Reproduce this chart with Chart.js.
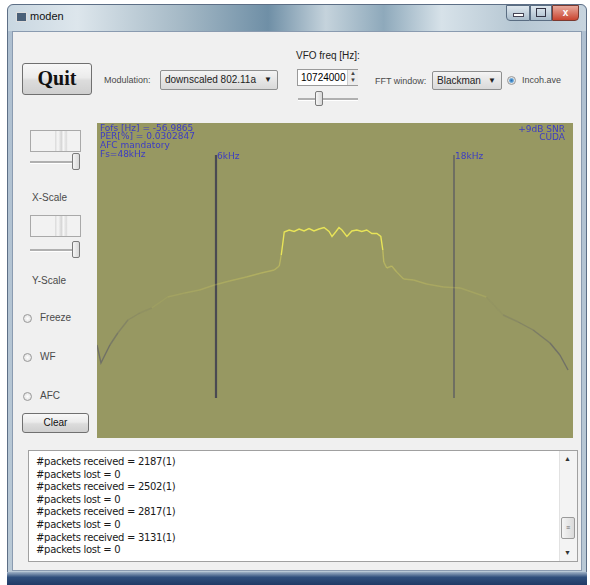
<!DOCTYPE html>
<html>
<head>
<meta charset="utf-8">
<script src="https://cdn.jsdelivr.net/npm/chart.js@4/dist/chart.umd.min.js"></script>
<style>
  html, body { margin: 0; padding: 0; background: #ffffff; }
  body { width: 590px; height: 585px; position: relative; overflow: hidden;
         font-family: "Liberation Sans", "DejaVu Sans", sans-serif; }
  .abs { position: absolute; }
  #win { left: 7px; top: 4px; width: 580px; height: 581px;
         background: linear-gradient(180deg, #aebfd0 0%, #b9c9d6 100%);
         border: 1px solid #5d6f86; border-radius: 6px 6px 0 0; box-sizing: border-box; }
  #titlebar { left: 8px; top: 5px; width: 578px; height: 26px;
         background: linear-gradient(90deg, #c9d7e1 0%, #dde6ec 12%, #a5b9c6 30%, #6f8fa6 45%,
                     #c5d3dc 55%, #8ea9bb 65%, #d7e2e9 75%, #b6c7d3 88%, #c7d4de 100%);
         border-radius: 6px 6px 0 0; }
  #client { left: 12px; top: 31px; width: 570px; height: 540px; background: #f0f0f0;
            border: 1px solid #8a9bb0; box-sizing: border-box; }
  #bottomband { left: 7px; top: 572px; width: 580px; height: 13px;
            background: linear-gradient(180deg, #9fb2c6 0%, #2f4f7c 40%, #203a66 100%); }
  .lbl { font-size: 9px; color: #4a4a4a; white-space: nowrap; }
  .txt { font-size: 10px; color: #222; white-space: nowrap; }
  .btn { border: 1px solid #707070; border-radius: 3px; box-sizing: border-box;
         background: linear-gradient(180deg, #f8f8f8 0%, #ebebeb 45%, #dcdcdc 55%, #cfcfcf 100%);
         text-align: center; color: #111; }
  .combo { border: 1px solid #8e8f8f; border-radius: 2px; box-sizing: border-box;
           background: linear-gradient(180deg, #f4f4f4 0%, #e6e6e6 50%, #d9d9d9 100%);
           font-size: 10px; color: #222; padding-left: 4px; line-height: 17px; white-space: nowrap; }
  .combo .arr { position: absolute; right: 5px; top: 0; font-size: 8px; color: #222; }
  .radio { width: 9px; height: 9px; border-radius: 50%; border: 1px solid #9a9a9a;
           background: radial-gradient(circle, #fff 0%, #e4e4e4 70%, #cfcfcf 100%); box-sizing: border-box; }
  .track { height: 2px; background: #b0b0b0; border-bottom: 1px solid #fff; }
  .thumb { width: 8px; height: 15px; border: 1px solid #7a7a7a; border-radius: 2px; box-sizing: border-box;
           background: linear-gradient(90deg, #f5f5f5, #d8d8d8); }
  .wheel { width: 51px; height: 22px; border: 1px solid #a9a9a9; box-sizing: border-box;
           background: linear-gradient(90deg, #f2f2f2 0%, #f2f2f2 48%, #dedede 50%, #f7f7f7 55%, #d6d6d6 62%, #f7f7f7 66%, #dcdcdc 72%, #f2f2f2 75%, #f2f2f2 100%); }
  #plotwrap { left: 97px; top: 123px; width: 476px; height: 315px; }
  #log { left: 28px; top: 450px; width: 550px; height: 112px; background: #fff;
         border: 1px solid #a0a0a0; box-sizing: border-box; }
  #log .line { position: absolute; left: 7px; font-size: 10px; color: #1a1a1a; white-space: nowrap;
               font-family: "DejaVu Sans", sans-serif; letter-spacing: -0.3px; }
  #sb { right: 0; top: 0; width: 17px; height: 110px; background: #f3f3f3; border-left: 1px solid #e2e2e2; }
</style>
</head>
<body>
<div id="win" class="abs"></div>
<div id="titlebar" class="abs"></div>
<div class="abs" style="left:16px;top:12px;width:9px;height:8px;background:#4a6078;border:1px solid #ddd;"></div>
<div class="abs" style="left:30px;top:10px;font-size:11px;color:#111;">moden</div>
<div class="abs" style="left:506px;top:5px;width:24px;height:16px;border:1px solid #5a6d82;border-radius:0 0 0 4px;background:linear-gradient(180deg,#dfe8ef,#a9bccb);box-sizing:border-box;"></div>
<div class="abs" style="left:513px;top:13px;width:9px;height:2px;background:#fff;border:1px solid #445;"></div>
<div class="abs" style="left:530px;top:5px;width:22px;height:16px;border:1px solid #5a6d82;background:linear-gradient(180deg,#dfe8ef,#a9bccb);box-sizing:border-box;"></div>
<div class="abs" style="left:536px;top:8px;width:8px;height:7px;border:1px solid #334;background:transparent;"></div>
<div class="abs" style="left:552px;top:5px;width:27px;height:16px;border:1px solid #7a3a30;border-radius:0 0 4px 0;background:linear-gradient(180deg,#e8a99c,#c9442f);box-sizing:border-box;color:#fff;font-size:10px;font-weight:bold;text-align:center;line-height:14px;">x</div>
<div id="client" class="abs"></div>
<div id="bottomband" class="abs"></div>

<!-- top control row -->
<div class="abs btn" style="left:22px;top:63px;width:70px;height:32px;font-family:'Liberation Serif',serif;font-weight:bold;font-size:20px;line-height:29px;">Quit</div>
<div class="abs lbl" style="left:104px;top:75px;">Modulation:</div>
<div class="abs combo" style="left:160px;top:70px;width:118px;height:20px;">downscaled 802.11a<span class="arr">&#9660;</span></div>
<div class="abs txt" style="left:296px;top:50px;">VFO freq [Hz]:</div>
<div class="abs" style="left:297px;top:69px;width:61px;height:17px;border:1px solid #9a9a9a;background:#fff;box-sizing:border-box;font-size:10px;line-height:15px;padding-left:3px;">10724000</div>
<div class="abs" style="left:347px;top:70px;width:10px;height:15px;background:#ececec;border-left:1px solid #ccc;font-size:6px;line-height:7px;text-align:center;color:#444;">&#9650;<br>&#9660;</div>
<div class="abs track" style="left:298px;top:98px;width:60px;"></div>
<div class="abs thumb" style="left:315px;top:91px;"></div>
<div class="abs lbl" style="left:375px;top:76px;">FFT window:</div>
<div class="abs combo" style="left:432px;top:71px;width:70px;height:19px;">Blackman<span class="arr">&#9660;</span></div>
<div class="abs radio" style="left:507px;top:76px;background:radial-gradient(circle,#2d6fb0 0%,#5aa0d8 35%,#e4e4e4 60%,#cfcfcf 100%);"></div>
<div class="abs lbl" style="left:522px;top:75px;">Incoh.ave</div>

<!-- left panel -->
<div class="abs wheel" style="left:30px;top:130px;"></div>
<div class="abs track" style="left:30px;top:161px;width:50px;"></div>
<div class="abs thumb" style="left:72px;top:153px;height:17px;"></div>
<div class="abs lbl" style="left:32px;top:192px;font-size:10px;">X-Scale</div>
<div class="abs wheel" style="left:30px;top:215px;"></div>
<div class="abs track" style="left:30px;top:249px;width:50px;"></div>
<div class="abs thumb" style="left:72px;top:241px;height:17px;"></div>
<div class="abs lbl" style="left:32px;top:275px;font-size:10px;">Y-Scale</div>
<div class="abs radio" style="left:23px;top:314px;"></div>
<div class="abs lbl" style="left:40px;top:312px;font-size:10px;">Freeze</div>
<div class="abs radio" style="left:23px;top:353px;"></div>
<div class="abs lbl" style="left:40px;top:351px;font-size:10px;">WF</div>
<div class="abs radio" style="left:23px;top:392px;"></div>
<div class="abs lbl" style="left:40px;top:390px;font-size:10px;">AFC</div>
<div class="abs btn" style="left:22px;top:413px;width:67px;height:20px;font-size:10px;line-height:18px;">Clear</div>

<!-- spectrum plot -->
<div id="plotwrap" class="abs"><canvas id="spec" width="476" height="315"></canvas></div>

<!-- packet log -->
<div id="log" class="abs">
  <div id="sb" class="abs">
    <div class="abs" style="left:4px;top:4px;font-size:7px;color:#333;">&#9650;</div>
    <div class="abs" style="left:1px;top:66px;width:14px;height:22px;border:1px solid #9a9a9a;border-radius:2px;background:linear-gradient(90deg,#f4f4f4,#dadada);box-sizing:border-box;font-size:7px;line-height:20px;text-align:center;color:#666;">&#8801;</div>
    <div class="abs" style="left:4px;top:98px;font-size:7px;color:#333;">&#9660;</div>
  </div>
</div>

<script>
// Spectrum trace: frequency (kHz) and averaged level (dB)
const freqKHz = [0.00, 0.20, 0.65, 1.05, 1.56, 2.16, 2.76, 3.56, 4.42, 5.17, 5.92, 6.68, 7.53, 8.28, 8.94, 9.19,
  9.29, 9.39, 9.44, 9.69, 9.94, 10.19, 10.44, 10.69, 10.94, 11.19, 11.45, 11.70, 11.85, 12.05, 12.20, 12.35,
  12.60, 12.85, 13.10, 13.35, 13.60, 13.86, 14.11, 14.31, 14.41, 14.46, 14.61, 14.86, 15.11, 15.46, 15.96,
  16.62, 17.47, 18.32, 19.63, 20.48, 21.24, 21.99, 22.84, 23.34, 23.75];
const levelDb = [-44.4, -48.0, -44.4, -42.0, -39.4, -38.0, -37.0, -34.8, -34.0, -33.4, -32.4, -31.6, -30.8, -30.0, -29.4, -28.6,
  -26.4, -23.4, -21.8, -21.4, -21.7, -21.2, -21.6, -21.1, -21.6, -21.2, -20.9, -21.7, -22.7, -21.7, -20.9, -21.4,
  -22.7, -21.6, -21.4, -21.7, -21.4, -22.1, -22.1, -22.7, -25.4, -27.8, -29.0, -28.6, -29.8, -31.2, -31.4,
  -32.2, -32.8, -33.0, -34.8, -38.4, -39.8, -41.4, -44.0, -46.4, -49.4];

// Band-edge markers
const markerKHz = [6, 18];
const markerLabels = ["6kHz", "18kHz"];
const markerSpanDb = [-6.4, -55.0];

// Status readouts
const statusLeft = ["Fofs [Hz] = -56.9865", "PER[%] = 0.0302847", "AFC mandatory", "Fs=48kHz"];
const statusRight = ["+9dB SNR", "CUDA"];

// Packet log lines
const packetsReceived = ["2187(1)", "2502(1)", "2817(1)", "3131(1)"];
const packetsLost = [0, 0, 0, 0];

const logEl = document.getElementById('log');
let row = 0;
packetsReceived.forEach((r, i) => {
  [`#packets received = ${r}`, `#packets lost = ${packetsLost[i]}`].forEach(t => {
    const d = document.createElement('div');
    d.className = 'line';
    d.style.top = (5 + row * 12.6) + 'px';
    d.textContent = t;
    logEl.appendChild(d);
    row++;
  });
});

// colour of a trace segment depends on its level: bright in-band, fading skirts, grey far ends
function segColour(ctx) {
  const a = ctx.p0.parsed.y, b = ctx.p1.parsed.y;
  const t = (a + b) / 2;
  if (t >= -26) return 'rgba(232,228,88,1)';
  if (t >= -36) {
    const al = 0.1 + 0.45 * (t + 36) / 10;
    return `rgba(220,214,96,${al.toFixed(3)})`;
  }
  const al = Math.max(0.06, Math.min(0.7, (-36 - t) * 0.075));
  return `rgba(96,96,104,${al.toFixed(3)})`;
}

const plotDecor = {
  id: 'plotDecor',
  beforeDraw(chart) {
    const c = chart.ctx;
    c.save();
    c.fillStyle = '#979862';
    c.fillRect(0, 0, chart.width, chart.height);
    c.restore();
  },
  afterDatasetsDraw(chart) {
    const c = chart.ctx;
    const xs = chart.scales.x, ys = chart.scales.y;
    c.save();
    c.fillStyle = '#3c3cc4';
    c.font = '9px "DejaVu Sans", sans-serif';
    c.textBaseline = 'top';
    c.textAlign = 'left';
    statusLeft.forEach((s, i) => c.fillText(s, 3, 1 + i * 8.6));
    c.textAlign = 'right';
    statusRight.forEach((s, i) => c.fillText(s, chart.width - 8, 2 + i * 8.6));
    c.textAlign = 'left';
    markerKHz.forEach((f, i) => {
      c.fillText(markerLabels[i], xs.getPixelForValue(f) + 1, ys.getPixelForValue(markerSpanDb[0]) - 3);
    });
    c.restore();
  }
};

const datasets = [{
  data: freqKHz.map((f, i) => ({ x: f, y: levelDb[i] })),
  borderWidth: 1.4,
  pointRadius: 0,
  tension: 0,
  segment: { borderColor: segColour }
}];
markerKHz.forEach((f, i) => {
  datasets.push({
    data: markerSpanDb.map(v => ({ x: f, y: v })),
    borderColor: i === 0 ? '#4a4a52' : '#5e5e62',
    borderWidth: i === 0 ? 2.2 : 1.4,
    pointRadius: 0
  });
});

new Chart(document.getElementById('spec'), {
  type: 'line',
  data: { datasets },
  options: {
    responsive: false,
    animation: false,
    events: [],
    layout: { padding: 0 },
    plugins: { legend: { display: false }, tooltip: { enabled: false } },
    scales: {
      x: { type: 'linear', min: 0, max: 24, display: false },
      y: { type: 'linear', min: -63, max: 0, display: false }
    }
  },
  plugins: [plotDecor]
});
</script>
</body>
</html>
